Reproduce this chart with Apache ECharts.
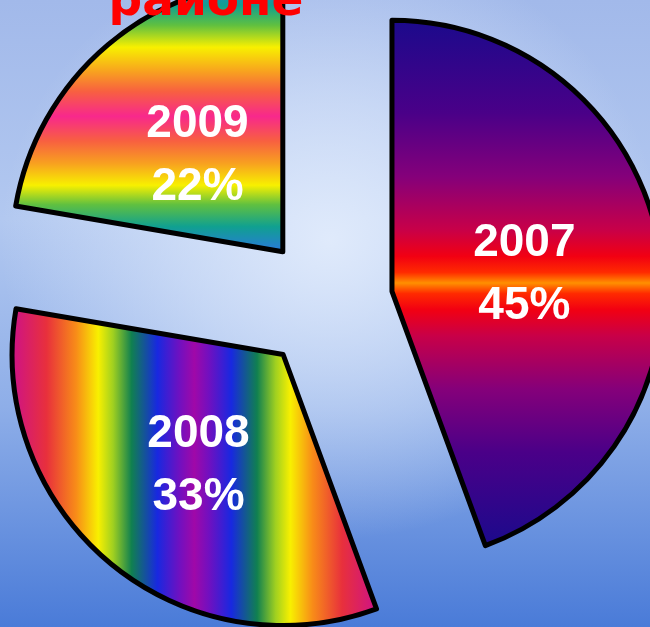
<!DOCTYPE html>
<html>
<head>
<meta charset="utf-8">
<script src="https://cdn.jsdelivr.net/npm/echarts@6/dist/echarts.min.js"></script>
<style>
  html, body { margin: 0; padding: 0; }
  body {
    width: 650px; height: 627px; overflow: hidden;
    background:
      radial-gradient(ellipse 330px 300px at 330px 240px, rgba(226,236,252,0.95) 0%, rgba(226,236,252,0.55) 45%, rgba(226,236,252,0) 100%),
      linear-gradient(to bottom, #a2b9ea 0%, #b2c8f0 35%, #8eaee8 65%, #4a7bd8 100%);
  }
  #chart { width: 650px; height: 627px; }
</style>
</head>
<body>
<div id="chart"></div>
<script>
const titleText = 'районе';
const categories = ['2007', '2008', '2009'];
// slice sizes as drawn (angles)
const values = [44.4, 33.3, 22.3];
// percentage labels as printed on the slices
const percentLabels = ['45%', '33%', '22%'];

function lg(x2, y2, stops) {
  return new echarts.graphic.LinearGradient(0, 0, x2, y2,
    stops.map(s => ({ offset: s[0], color: s[1] })));
}

const fills = [
  lg(0, 1, [
    [0, '#1a0a8c'], [0.18, '#4a0088'], [0.3, '#85007a'], [0.4, '#c80048'],
    [0.45, '#f20012'], [0.48, '#ff2a00'], [0.5, '#ff9000'], [0.52, '#ff2a00'],
    [0.55, '#f20012'], [0.6, '#c80048'], [0.7, '#85007a'], [0.82, '#4a0088'], [1, '#1a0a8c']
  ]),
  lg(1, 0, [
    [0, '#cc108c'], [0.1, '#e8303c'], [0.18, '#f88c18'], [0.24, '#f8f000'],
    [0.28, '#a0d020'], [0.33, '#108050'], [0.4, '#1828e0'], [0.46, '#7010c0'],
    [0.5, '#a008a8'], [0.54, '#7010c0'], [0.6, '#1828e0'], [0.67, '#108050'],
    [0.72, '#a0d020'], [0.76, '#f8f000'], [0.82, '#f88c18'], [0.9, '#e8303c'], [1, '#cc108c']
  ]),
  lg(0, 1, [
    [0, '#2c74e4'], [0.1, '#10a090'], [0.17, '#60c040'], [0.25, '#f8f000'],
    [0.34, '#f8a020'], [0.41, '#f86040'], [0.5, '#f8288c'], [0.59, '#f86040'],
    [0.67, '#f8a020'], [0.75, '#f8f000'], [0.82, '#60c040'], [0.9, '#10a090'], [1, '#2c74e4']
  ])
];
// horizontal nudge via padding; vertical nudge via an empty spacer line
const labelPadding = [[0, 8, 0, 0], [0, 0, 0, 8], [0, 0, 0, 8]];
const spacerHeights = [16, 10, 20];

const chart = echarts.init(document.getElementById('chart'), null, { renderer: 'canvas' });

const textStyle = {
  color: '#fff',
  fontFamily: '"Liberation Sans", Arial, sans-serif',
  fontWeight: 'bold',
  fontSize: 46,
  lineHeight: 63
};

chart.setOption({
  animation: false,
  backgroundColor: 'transparent',
  graphic: [{
    type: 'text',
    x: 206,
    y: 3,
    style: {
      text: titleText,
      fill: '#ff0000',
      font: 'bold 47px "DejaVu Sans"',
      align: 'center',
      verticalAlign: 'middle'
    },
    z: 10
  }],
  series: [{
    type: 'pie',
    center: [326, 303],
    radius: [0, 271],
    startAngle: 90,
    clockwise: true,
    selectedMode: 'multiple',
    selectedOffset: 67,
    avoidLabelOverlap: false,
    emphasis: { disabled: true },
    itemStyle: { borderColor: '#000', borderWidth: 5 },
    label: Object.assign({ show: true, position: 'inside' }, textStyle),
    labelLine: { show: false },
    data: categories.map((c, i) => ({
      name: c,
      value: values[i],
      selected: true,
      itemStyle: { color: fills[i] },
      select: { itemStyle: { color: fills[i], borderColor: '#000', borderWidth: 5 } },
      label: {
        formatter: '{sp|}\n{t|' + c + '}\n{t|' + percentLabels[i] + '}',
        padding: labelPadding[i],
        rich: {
          sp: { fontSize: 1, lineHeight: spacerHeights[i] },
          t: textStyle
        }
      }
    }))
  }]
});
</script>
</body>
</html>
